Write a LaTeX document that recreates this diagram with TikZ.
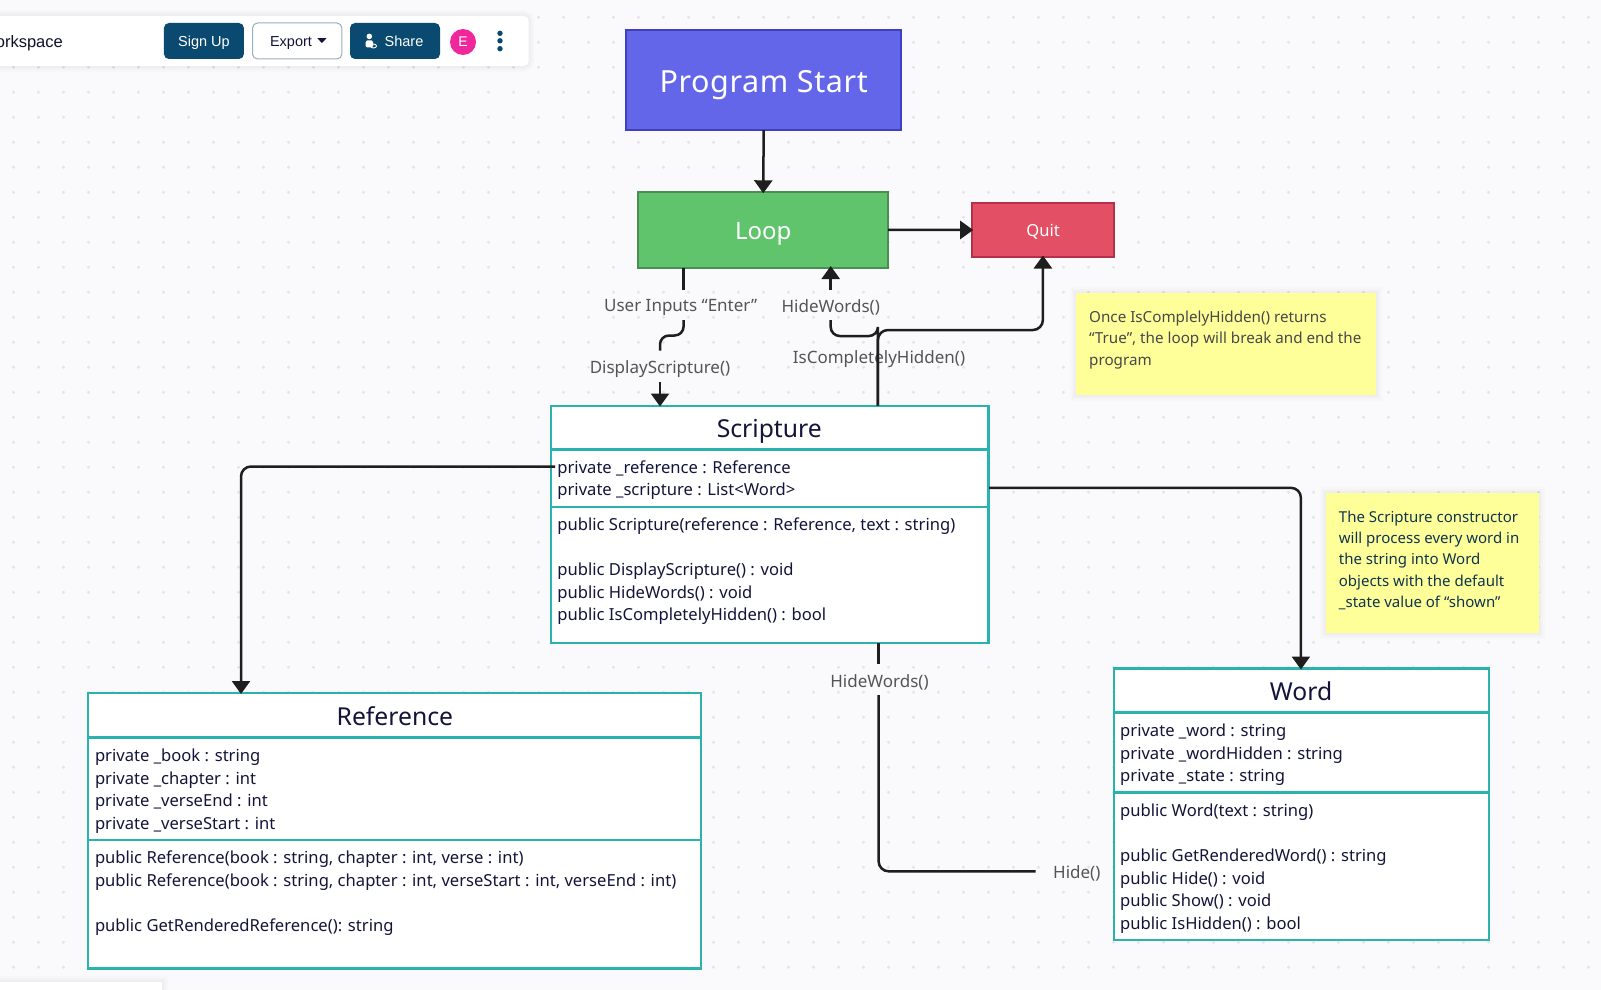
\documentclass[tikz,border=0pt]{standalone}
\usepackage{fontspec}
\setmainfont{Noto Sans}
\newfontfamily\uifont{Liberation Sans}
\usetikzlibrary{arrows.meta}
\definecolor{bgc}{HTML}{FAFAFC}
\definecolor{dotc}{HTML}{E3E3E9}
\definecolor{teal1}{HTML}{2AB2AE}
\definecolor{navyc}{HTML}{14143A}
\definecolor{labelc}{HTML}{555555}
\definecolor{linec}{HTML}{1E1E1E}
\definecolor{notec}{HTML}{FFFF99}
\definecolor{uiblue}{HTML}{0B4A70}
\definecolor{avatarc}{HTML}{F0269B}
\definecolor{startf}{HTML}{6366E8}
\definecolor{startb}{HTML}{3F3FC0}
\definecolor{loopf}{HTML}{5FC46B}
\definecolor{loopb}{HTML}{4B8D55}
\definecolor{quitf}{HTML}{E34F64}
\definecolor{quitb}{HTML}{B5304A}
\newcommand\fl{\rule{0pt}{12pt}}
\tikzset{
  softshadow/.style={
    preaction={draw=black,draw opacity=.012,line width=12pt},
    preaction={draw=black,draw opacity=.015,line width=8pt},
    preaction={draw=black,draw opacity=.02,line width=4pt}},
  boxn/.style={draw,line width=2pt,inner sep=0pt,outer sep=0pt,text=white},
  classbox/.style={draw=teal1,fill=white,line width=2.5pt,inner sep=0pt,outer sep=0pt,minimum width=#1},
  classtitle/.style={text=navyc,font=\fontsize{24.7}{28}\selectfont},
  members/.style={anchor=north west,inner sep=0pt,align=left,text=navyc,font=\fontsize{16.6}{22.5}\selectfont},
  lbl/.style={inner sep=0pt,text=labelc,font=\fontsize{17}{20}\selectfont},
  notebox/.style={fill=notec,inner sep=0pt,softshadow},
  notetext/.style={anchor=north west,inner sep=0pt,align=left,font=\fontsize{15.2}{21.3}\selectfont},
  conn/.style={draw=linec,line width=2.5pt,rounded corners=10pt},
  arr/.style={-{Triangle[length=13pt,width=18pt]}},
  uibtn/.style={rounded corners=5pt,inner sep=0pt,minimum height=36pt},
  uitext/.style={inner sep=0pt,font=\uifont\fontsize{14.5}{18}\selectfont}
}
\begin{document}
\begin{tikzpicture}[x=1pt,y=-1pt]
\useasboundingbox (0,0) rectangle (1601,990);
\clip (0,0) rectangle (1601,990);
\fill[bgc] (0,0) rectangle (1601,990);
\foreach \i in {0,...,63}{\foreach \j in {0,...,39}{
  \fill[dotc] ({13.5+25*\i},{17.3+25*\j}) circle (1.6pt);}}

% toolbar
\node[fill=white,rounded corners=5pt,inner sep=0pt,minimum width=548.6pt,minimum height=50pt,softshadow] (toolbar) at (254.3,41) {};
\node[uitext,anchor=base east,text=navyc!80!black,font=\uifont\fontsize{16.5}{20}\selectfont] (wsp) at (63,47.5) {orkspace};
\node[uibtn,fill=uiblue,minimum width=80pt] (signup) at (203.9,41) {};
\node[uitext,text=white] (signupt) at (204,42.5) {Sign Up};
\node[uibtn,draw=black!30!uiblue!40,fill=white,line width=1pt,minimum width=89.3pt] (export) at (297.2,41) {};
\node[uitext,text=navyc] (exportt) at (291,43) {Export};
\fill[navyc] (317.3,38.2) -- (326.5,38.2) -- (321.9,43) -- cycle;
\node[uibtn,fill=uiblue,minimum width=90pt] (share) at (395,41) {};
\node[uitext,text=white] (sharet) at (404,41) {Share};
\fill[white] (369.3,36.4) circle (2.8pt);
\fill[white,rounded corners=1.5pt] (365.5,40.5) rectangle (373,47.5);
\draw[white,line width=.9pt] (373.5,46) ellipse (3pt and 2pt);
\node[circle,fill=avatarc,minimum size=26pt,inner sep=0pt,text=white,font=\uifont\fontsize{14}{16}\selectfont] (avatar) at (463,42) {E};
\foreach \yy in {33.3,40.8,48.7}{\fill[uiblue] (500,\yy) circle (2.7pt);}
\node[fill=white,inner sep=0pt,minimum width=172.3pt,minimum height=20pt,anchor=north east,softshadow] (panel) at (162.3,981.7) {};

% process boxes
\node[boxn,draw=startb,fill=startf,minimum width=275pt,minimum height=100.5pt,font=\fontsize{30.5}{34}\selectfont] (start) at (763.7,79.8) {\raisebox{-13pt}[0pt][0pt]{\addfontfeature{LetterSpace=2}Program Start}};
\node[boxn,draw=loopb,fill=loopf,minimum width=250pt,minimum height=75.2pt,font=\fontsize{24}{28}\selectfont] (loop) at (763.2,229.9) {\raisebox{-9.4pt}[0pt][0pt]{Loop}};
\node[boxn,draw=quitb,fill=quitf,minimum width=142pt,minimum height=54.5pt,font=\fontsize{16.6}{20}\selectfont] (quit) at (1043.2,230) {\raisebox{-6.7pt}[0pt][0pt]{Quit}};

% Scripture
\node[classbox=437.7pt,minimum height=43.7pt] (scrH) at (769.85,427.6) {};
\node[classbox=437.7pt,minimum height=57.3pt] (scrA) at (769.85,478.2) {};
\node[classbox=437.7pt,minimum height=136.3pt] (scrM) at (769.85,575) {};
\node[classtitle,anchor=base,inner sep=0pt] (scrT) at (769.3,437) {Scripture};
\node[members] (scrAt) at (557.2,460.3) {\fl private \_reference : Reference\\private \_scripture : List<Word>};
\node[members] (scrMt) at (557.2,517.7) {\fl public Scripture(reference : Reference, text : string)\\[22.5pt]public DisplayScripture() : void\\public HideWords() : void\\public IsCompletelyHidden() : bool};

% Reference
\node[classbox=612.9pt,minimum height=44.2pt] (refH) at (394.45,715.2) {};
\node[classbox=612.9pt,minimum height=102.7pt] (refA) at (394.45,788.65) {};
\node[classbox=612.9pt,minimum height=128.6pt] (refM) at (394.45,904.3) {};
\node[classtitle,anchor=base,inner sep=0pt] (refT) at (394.9,725) {Reference};
\node[members] (refAt) at (94.8,748.7) {\fl private \_book : string\\private \_chapter : int\\private \_verseEnd : int\\private \_verseStart : int};
\node[members] (refMt) at (94.8,850.9) {\fl public Reference(book : string, chapter : int, verse : int)\\public Reference(book : string, chapter : int, verseStart : int, verseEnd : int)\\[22.5pt]public GetRenderedReference(): string};

% Word
\node[classbox=375.1pt,minimum height=43.3pt] (wrdH) at (1301.35,690.3) {};
\node[classbox=375.1pt,minimum height=80pt] (wrdA) at (1301.35,752.3) {};
\node[classbox=375.1pt,minimum height=147.8pt] (wrdM) at (1301.35,866.2) {};
\node[classtitle,anchor=base,inner sep=0pt] (wrdT) at (1301,700) {Word};
\node[members] (wrdAt) at (1120,723.7) {\fl private \_word : string\\private \_wordHidden : string\\private \_state : string};
\node[members] (wrdMt) at (1120,803.7) {\fl public Word(text : string)\\[22.5pt]public GetRenderedWord() : string\\public Hide() : void\\public Show() : void\\public IsHidden() : bool};

% notes
\node[notebox,minimum width=300pt,minimum height=102.3pt] (note1) at (1226,343.85) {};
\node[notetext,text=labelc!85!black] (note1t) at (1089,310.7) {\rule{0pt}{11pt}Once IsComplelyHidden() returns\\“True”, the loop will break and end the\\program};
\node[notebox,minimum width=213pt,minimum height=139.5pt] (note2) at (1432.5,563) {};
\node[notetext,text=navyc!70!teal,font=\fontsize{15}{21.3}\selectfont] (note2t) at (1338.7,510.7) {\rule{0pt}{11pt}The Scripture constructor\\will process every word in\\the string into Word\\objects with the default\\\_state value of “shown”};

% connector labels
\node[lbl] (lblEnter) at (680.7,307.7) {User Inputs “Enter”};
\node[lbl] (lblDisp) at (660,369) {DisplayScripture()};
\node[lbl] (lblHideUp) at (830.7,307.7) {HideWords()};
\node[lbl] (lblHidden) at (879,359) {IsCompletelyHidden()};
\node[lbl] (lblHideDn) at (879.5,682.7) {HideWords()};
\node[lbl] (lblHide) at (1076.8,873.7) {Hide()};

% named ends
\coordinate (a1) at (683.6,267.5);
\coordinate (a2) at (683.6,290);
\coordinate (a3) at (683.6,320);
\coordinate (a4) at (660,335.5);
\coordinate (a5) at (660,350.7);
\coordinate (a6) at (660,381.7);
\coordinate (a7) at (660,406.5);
\coordinate (b1) at (830.7,266);
\coordinate (b2) at (830.7,290);
\coordinate (b3) at (830.7,320);
\coordinate (b4) at (877.9,336);
\coordinate (b5) at (877.9,405.5);
\coordinate (c1) at (877.9,330);
\coordinate (c2) at (1042.9,330);
\coordinate (c3) at (1042.9,255.5);
\coordinate (d1) at (878.6,643);
\coordinate (d2) at (878.6,664);
\coordinate (d3) at (878.6,695);
\coordinate (d4) at (878.6,871.3);
\coordinate (d5) at (1035.7,871.3);
\coordinate (e1) at (555,466.5);
\coordinate (e2) at (241,466.5);
\coordinate (e3) at (241,694);
\coordinate (f1) at (989,487.8);
\coordinate (f2) at (1300.9,487.8);
\coordinate (f3) at (1300.9,669.5);

% connectors
\draw[conn,arr] (start.south) -- ([yshift=-1pt]loop.north);
\draw[conn,arr] (loop.east) -- ([xshift=1pt]quit.west);
\draw[conn] (a1) -- (a2);
\draw[conn,rounded corners=9pt] (a3) |- (a4) -- (a5);
\draw[conn,arr] (a6) -- (a7);
\draw[conn,arr] (b2) -- (b1);
\draw[conn,rounded corners=9pt] (b5) |- (b4) -| (b3);
\draw[conn,arr] (b5) -- (c1) -- (c2) -- (c3);
\draw[conn] (d1) -- (d2);
\draw[conn] (d3) -- (d4) -- (d5);
\draw[conn,arr] (e1) -- (e2) -- (e3);
\draw[conn,arr] (f1) -- (f2) -- (f3);
\end{tikzpicture}
\end{document}
